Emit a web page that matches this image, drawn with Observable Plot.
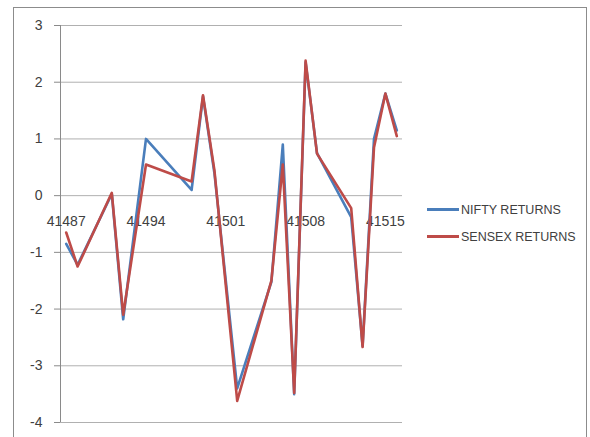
<!DOCTYPE html>
<html>
<head>
<meta charset="utf-8">
<script src="https://cdn.jsdelivr.net/npm/d3@7"></script>
<script src="https://cdn.jsdelivr.net/npm/@observablehq/plot@0.6"></script>
<style>
  html, body { margin: 0; padding: 0; background: #fff; }
  #wrap { position: relative; width: 590px; height: 437px; overflow: hidden; }
  #border { position: absolute; left: 13px; top: 7px; width: 574px; height: 440px; border: 1px solid #8c8c8c; box-sizing: border-box; }
  #chart { position: absolute; left: 0; top: 0; }
  .lg { position: absolute; left: 427px; font-family: "Liberation Sans", Arial, sans-serif; font-size: 12.5px; color: #404040; white-space: nowrap; }
  .lg span.sw { display: inline-block; width: 32px; height: 3px; vertical-align: middle; margin-right: 2px; }
  .lg span.t { vertical-align: middle; }
</style>
</head>
<body>
<div id="wrap">
  <div id="border"></div>
  <div id="chart"></div>
  <div class="lg" id="lg1" style="top:202px"><span class="sw" style="background:#4a7ebb"></span><span class="t">NIFTY RETURNS</span></div>
  <div class="lg" id="lg2" style="top:229px"><span class="sw" style="background:#be4b48"></span><span class="t">SENSEX RETURNS</span></div>
</div>
<script>
// Excel date serials (trading days, August 2013)
const dates  = [41487, 41488, 41491, 41492, 41494, 41498, 41499, 41500, 41502, 41505, 41506, 41507, 41508, 41509, 41512, 41513, 41514, 41515, 41516];
const nifty  = [-0.85, -1.22, 0.03, -2.18, 1.00, 0.10, 1.75, 0.40, -3.40, -1.52, 0.90, -3.50, 2.35, 0.75, -0.38, -2.65, 1.00, 1.80, 1.15];
const sensex = [-0.65, -1.25, 0.05, -2.10, 0.55, 0.25, 1.77, 0.45, -3.62, -1.50, 0.55, -3.48, 2.38, 0.74, -0.22, -2.67, 0.85, 1.80, 1.05];
const xTicks = [41487, 41494, 41501, 41508, 41515];
const yTicks = [-4, -3, -2, -1, 0, 1, 2, 3];
const xDomain = [41486.5, 41516.5];

const niftyData = dates.map((d, i) => ({date: d, v: nifty[i]}));
const sensexData = dates.map((d, i) => ({date: d, v: sensex[i]}));

const chart = Plot.plot({
  width: 590,
  height: 437,
  marginLeft: 60,
  marginRight: 188,
  marginTop: 25,
  marginBottom: 15,
  style: {fontFamily: "'Liberation Sans', Arial, sans-serif", background: "transparent"},
  x: {domain: xDomain, axis: null, label: null},
  y: {domain: [-4, 3], axis: null, label: null},
  marks: [
    Plot.ruleY(yTicks, {stroke: "#b0b0b0", strokeWidth: 1}),
    Plot.ruleX([xDomain[0]], {stroke: "#8a8a8a", strokeWidth: 1}),
    Plot.axisY(yTicks, {label: null, tickSize: 6, tickPadding: 12, stroke: "#8a8a8a", fill: "#404040", fontSize: 14, tickFormat: d => String(d)}),
    Plot.text(xTicks, {x: d => d, y: () => 0, dy: 26, text: d => String(d), fill: "#404040", fontSize: 14}),
    Plot.line(niftyData, {x: "date", y: "v", stroke: "#4a7ebb", strokeWidth: 2.6}),
    Plot.line(sensexData, {x: "date", y: "v", stroke: "#be4b48", strokeWidth: 2.6})
  ]
});
document.getElementById("chart").appendChild(chart);
</script>
</body>
</html>
